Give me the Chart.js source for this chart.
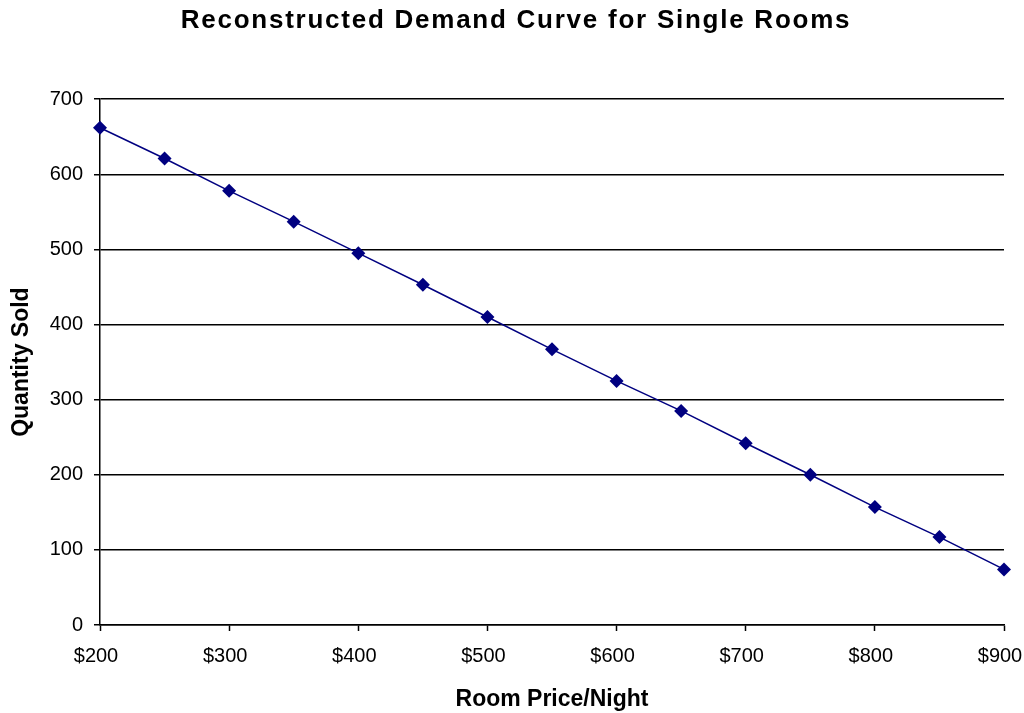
<!DOCTYPE html>
<html>
<head>
<meta charset="utf-8">
<script src="https://cdn.jsdelivr.net/npm/chart.js@4/dist/chart.umd.min.js"></script>
<style>
  html, body { margin: 0; padding: 0; background: #fff; }
  #wrap { width: 1024px; height: 713px; }
</style>
</head>
<body>
<div id="wrap"><canvas id="c" width="1024" height="713"></canvas></div>
<script>
// Room price per night (USD) and the quantity of single rooms sold at that price
const prices = [200, 250, 300, 350, 400, 450, 500, 550, 600, 650, 700, 750, 800, 850, 900];
const quantities = [662, 621, 578, 537, 495, 453, 410, 367, 325, 285, 242, 200, 157, 117, 74];

const xTicks = [200, 300, 400, 500, 600, 700, 800, 900];
const yTicks = [0, 100, 200, 300, 400, 500, 600, 700];

const points = prices.map((p, i) => ({ x: p, y: quantities[i] }));

const FONT = "'Liberation Sans', Arial, sans-serif";

// Give the chart title a little extra letter spacing and centre it over the plot
const titleSpacing = {
  id: 'titleSpacing',
  beforeDraw(chart) {
    const tb = chart.titleBlock;
    if (tb && !tb._spaced) {
      const orig = tb.draw.bind(tb);
      tb.draw = function () {
        const ctx = chart.ctx;
        ctx.save();
        ctx.letterSpacing = '1.75px';
        ctx.translate(14, 0);
        orig();
        ctx.restore();
      };
      tb._spaced = true;
    }
  }
};

new Chart(document.getElementById('c'), {
  type: 'scatter',
  data: {
    datasets: [{
      data: points,
      showLine: true,
      clip: false,
      borderColor: '#000080',
      borderWidth: 1.5,
      pointStyle: 'rectRot',
      pointRadius: 7,
      pointBackgroundColor: '#000080',
      pointBorderColor: '#000080',
      pointBorderWidth: 0
    }]
  },
  options: {
    responsive: false,
    animation: false,
    layout: { padding: { left: 0, right: 20, top: 0, bottom: 0 } },
    plugins: {
      legend: { display: false },
      tooltip: { enabled: false },
      title: {
        display: true,
        text: 'Reconstructed Demand Curve for Single Rooms',
        color: '#000',
        font: { family: FONT, size: 26, weight: 'bold', lineHeight: 1.2 },
        padding: { top: 5, bottom: 63 }
      }
    },
    scales: {
      x: {
        type: 'linear',
        min: 200,
        max: 900,
        afterBuildTicks: (axis) => { axis.ticks = xTicks.map(v => ({ value: v })); },
        afterFit: (axis) => {
          axis.height = 88;
          axis.paddingLeft = 0;
          axis.paddingRight = 0;
        },
        ticks: {
          color: '#000',
          font: { family: FONT, size: 20, lineHeight: 1.2 },
          padding: 13,
          labelOffset: -4,
          maxRotation: 0,
          autoSkip: false,
          callback: (v) => '$' + v
        },
        grid: {
          drawOnChartArea: false,
          color: '#000',
          tickLength: 6,
          tickWidth: 1.5
        },
        border: { color: '#000', width: 1.5 },
        title: {
          display: true,
          text: 'Room Price/Night',
          color: '#000',
          font: { family: FONT, size: 23, weight: 'bold', lineHeight: 1.2 },
          padding: { top: 0, bottom: 0 }
        }
      },
      y: {
        min: 0,
        max: 700,
        afterBuildTicks: (axis) => { axis.ticks = yTicks.map(v => ({ value: v })); },
        afterFit: (axis) => { axis.width = 100; },
        ticks: {
          color: '#000',
          font: { family: FONT, size: 20, lineHeight: 1.2 },
          padding: 11
        },
        grid: {
          color: '#000',
          lineWidth: 1.5,
          tickLength: 6
        },
        border: { color: '#000', width: 1.5 },
        title: {
          display: true,
          text: 'Quantity Sold',
          color: '#000',
          font: { family: FONT, size: 23, weight: 'bold', lineHeight: 1.2 },
          padding: { top: 8, bottom: 0 }
        }
      }
    }
  },
  plugins: [titleSpacing]
});
</script>
</body>
</html>
